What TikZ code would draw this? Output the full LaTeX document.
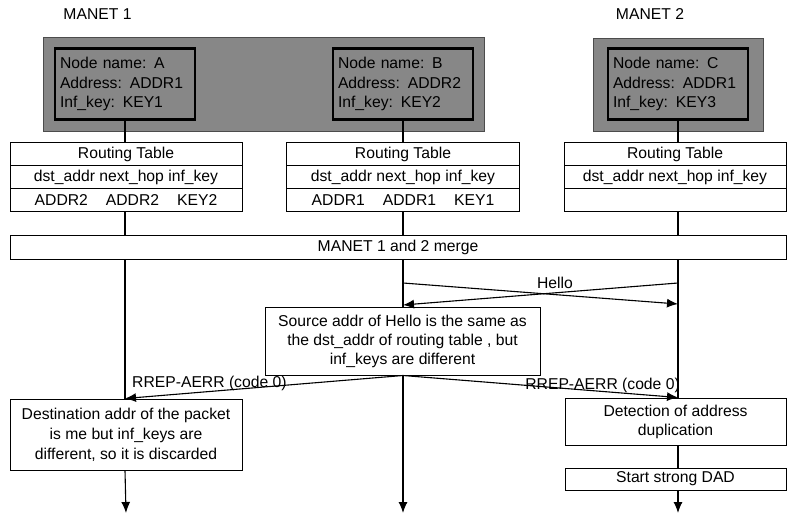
\documentclass[tikz,border=0pt]{standalone}
\usepackage{fontspec}
\setmainfont{Liberation Sans}
\usetikzlibrary{arrows.meta}
\definecolor{bandgray}{RGB}{135,135,135}
\begin{document}
\begin{tikzpicture}[x=1pt,y=-1pt,
  every node/.style={font=\fontsize{15.7}{19}\selectfont, inner sep=0pt},
  box/.style={draw, fill=white, line width=1pt, rectangle, align=center},
  band/.style={fill=bandgray, draw=black!70, line width=0.6pt, rectangle},
  ibox/.style={draw=black, fill=bandgray, line width=2.4pt, rectangle, align=left,
    text width=130pt, inner xsep=5pt, minimum height=71pt, font=\fontsize{15.7}{19.5}\selectfont},
  life/.style={line width=1.1pt},
  msg/.style={line width=1.1pt, -{Latex[length=11pt,width=9pt]}},
  lbl/.style={font=\fontsize{15.7}{19}\selectfont}
]
\useasboundingbox (0,0) rectangle (788,516);

% titles
\node[lbl] (m1) at (97.5,14) {MANET 1};
\node[lbl] (m2) at (650,14) {MANET 2};

% gray bands
\node[band, minimum width=441pt, minimum height=94pt] (gAB) at (263.5,84) {};
\node[band, minimum width=170pt, minimum height=93pt] (gC) at (678,84.5) {};

% inner node boxes
\node[ibox] (bA) at (125,84) {Node name: A\\Address: ADDR1\\Inf\_key: KEY1};
\node[ibox] (bB) at (403,84) {Node name: B\\Address: ADDR2\\Inf\_key: KEY2};
\node[ibox] (bC) at (678,84) {Node name: C\\Address: ADDR1\\Inf\_key: KEY3};

% routing tables
\node[box, minimum width=232pt, minimum height=23pt] (tA1) at (126,154.5) {Routing Table};
\node[box, minimum width=232pt, minimum height=23pt] (tA2) at (126,177.5) {dst\_addr next\_hop inf\_key};
\node[box, minimum width=232pt, minimum height=23pt] (tA3) at (126,200.5) {ADDR2\hspace{18pt}ADDR2\hspace{18pt}KEY2};

\node[box, minimum width=233pt, minimum height=23pt] (tB1) at (403,154.5) {Routing Table};
\node[box, minimum width=233pt, minimum height=23pt] (tB2) at (403,177.5) {dst\_addr next\_hop inf\_key};
\node[box, minimum width=233pt, minimum height=23pt] (tB3) at (403,200.5) {ADDR1\hspace{18pt}ADDR1\hspace{18pt}KEY1};

\node[box, minimum width=222pt, minimum height=23pt] (tC1) at (675,154.5) {Routing Table};
\node[box, minimum width=222pt, minimum height=23pt] (tC2) at (675,177.5) {dst\_addr next\_hop inf\_key};
\node[box, minimum width=222pt, minimum height=23pt] (tC3) at (675,200.5) {};

% connectors node -> table
\draw[life] (bA.south) -- (bA.south |- tA1.north);
\draw[life] (bB.south) -- (bB.south |- tB1.north);
\draw[life] (bC.south) -- (bC.south |- tC1.north);

% merge
\node[box, minimum width=776pt, minimum height=23pt] (merge) at (398,247.5) {MANET 1 and 2 merge};
\draw[life] (bA.south |- tA3.south) -- (bA.south |- merge.north);
\draw[life] (bB.south |- tB3.south) -- (bB.south |- merge.north);
\draw[life] (bC.south |- tC3.south) -- (bC.south |- merge.north);

% lower boxes
\node[box, minimum width=275pt, minimum height=68pt] (src) at (402.5,341)
  {Source addr of Hello is the same as\\the dst\_addr of routing table , but\\inf\_keys are different};
\node[box, minimum width=232pt, minimum height=71pt, font=\fontsize{15.7}{20}\selectfont] (dest) at (126,434.5)
  {Destination addr of the packet\\is me but inf\_keys are\\different, so it is discarded};
\node[box, minimum width=221pt, minimum height=47pt] (det) at (675.5,421.5)
  {Detection of address\\duplication};
\node[box, minimum width=221pt, minimum height=22pt] (dad) at (675.5,479) {Start strong DAD};

% end coordinates
\coordinate (eA) at (126,513);
\coordinate (eB) at (403,513);
\coordinate (eC) at (678,513);

% lifelines
\draw[life] (bA.south |- merge.south) -- (bA.south |- dest.north);
\draw[msg] (bA.south |- dest.south) -- (eA);
\draw[life] (bB.south |- merge.south) -- (bB.south |- src.north);
\draw[msg] (bB.south |- src.south) -- (eB);
\draw[life] (bC.south |- merge.south) -- (bC.south |- det.north);
\draw[life] (bC.south |- det.south) -- (bC.south |- dad.north);
\draw[msg] (bC.south |- dad.south) -- (eC);

% Hello messages
\coordinate (h1s) at (403,283);
\coordinate (h1e) at (678,304);
\coordinate (h2s) at (678,283);
\coordinate (h2e) at (403,305);
\draw[msg] (h1s) -- (h1e);
\draw[msg] (h2s) -- (h2e);
\node[lbl] (hello) at (555,283) {Hello};

% RREP-AERR messages
\draw[msg] (bB.south |- src.south) -- (bA.south |- dest.north);
\draw[msg] (bB.south |- src.south) -- (bC.south |- det.north);
\node[lbl, anchor=west] (r1) at (132,383) {RREP-AERR (code 0)};
\node[lbl, anchor=east] (r2) at (680,385) {RREP-AERR (code 0)};
\end{tikzpicture}
\end{document}
